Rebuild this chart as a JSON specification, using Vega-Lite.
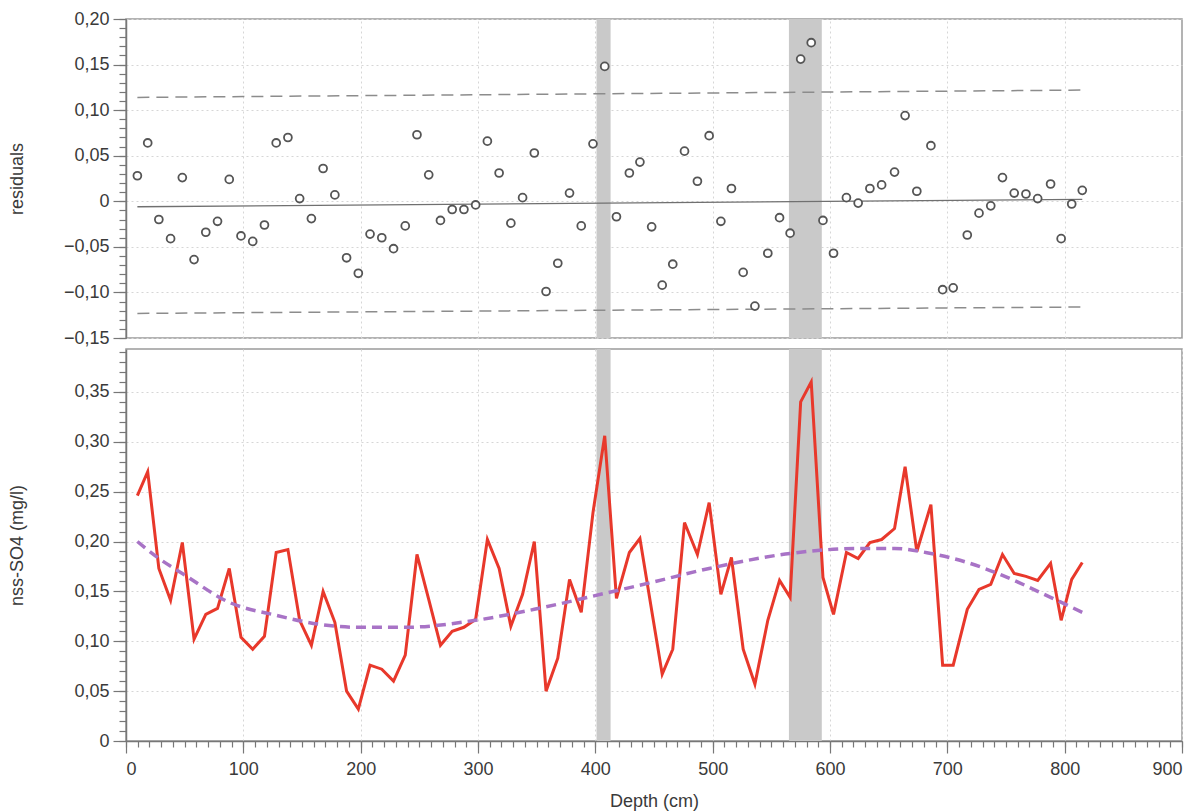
{
  "$schema": "https://vega.github.io/schema/vega-lite/v6.json",
  "background": "white",
  "padding": {"left": 7, "top": 9, "right": 5, "bottom": 0},
  "spacing": 0,
  "config": {
    "font": "Liberation Sans",
    "view": {"stroke": "#9a9a9a", "strokeWidth": 1.5},
    "axis": {
      "labelFont": "Liberation Sans",
      "titleFont": "Liberation Sans",
      "labelFontSize": 18,
      "titleFontSize": 18,
      "titleFontWeight": "normal",
      "labelColor": "#3a3a3a",
      "titleColor": "#3a3a3a",
      "gridColor": "#d6d6d6",
      "gridDash": [2, 3],
      "gridWidth": 1,
      "tickColor": "#777777",
      "domainColor": "#777777",
      "tickWidth": 1.2,
      "domainWidth": 1.5
    }
  },
  "datasets": {
    "bands": [{"start": 401, "end": 413}, {"start": 565, "end": 593}],
    "trend": [
      {"depth": 9.7, "mid": -0.006, "upper": 0.114, "lower": -0.123},
      {"depth": 815, "mid": 0.002, "upper": 0.122, "lower": -0.116}
    ],
    "res": [
      {"depth": 9.7, "r": 0.028}, {"depth": 18.5, "r": 0.064}, {"depth": 28, "r": -0.02}, {"depth": 38, "r": -0.041},
      {"depth": 48, "r": 0.026}, {"depth": 58, "r": -0.064}, {"depth": 68, "r": -0.034}, {"depth": 78, "r": -0.022},
      {"depth": 88, "r": 0.024}, {"depth": 98, "r": -0.038}, {"depth": 108, "r": -0.044}, {"depth": 118, "r": -0.026},
      {"depth": 128, "r": 0.064}, {"depth": 138, "r": 0.07}, {"depth": 148, "r": 0.003}, {"depth": 158, "r": -0.019},
      {"depth": 168, "r": 0.036}, {"depth": 178, "r": 0.007}, {"depth": 188, "r": -0.062}, {"depth": 198, "r": -0.079},
      {"depth": 208, "r": -0.036}, {"depth": 218, "r": -0.04}, {"depth": 228, "r": -0.052}, {"depth": 238, "r": -0.027},
      {"depth": 248, "r": 0.073}, {"depth": 258, "r": 0.029}, {"depth": 268, "r": -0.021}, {"depth": 278, "r": -0.009},
      {"depth": 288, "r": -0.009}, {"depth": 298, "r": -0.004}, {"depth": 308, "r": 0.066}, {"depth": 318, "r": 0.031},
      {"depth": 328, "r": -0.024}, {"depth": 338, "r": 0.004}, {"depth": 348, "r": 0.053}, {"depth": 358, "r": -0.099},
      {"depth": 368, "r": -0.068}, {"depth": 378, "r": 0.009}, {"depth": 388, "r": -0.027}, {"depth": 398, "r": 0.063},
      {"depth": 408, "r": 0.148}, {"depth": 418, "r": -0.017}, {"depth": 429, "r": 0.031}, {"depth": 438, "r": 0.043},
      {"depth": 448, "r": -0.028}, {"depth": 457, "r": -0.092}, {"depth": 466, "r": -0.069}, {"depth": 476, "r": 0.055},
      {"depth": 487, "r": 0.022}, {"depth": 497, "r": 0.072}, {"depth": 507, "r": -0.022}, {"depth": 516, "r": 0.014},
      {"depth": 526, "r": -0.078}, {"depth": 536, "r": -0.115}, {"depth": 547, "r": -0.057}, {"depth": 557, "r": -0.018},
      {"depth": 566, "r": -0.035}, {"depth": 575, "r": 0.156}, {"depth": 584, "r": 0.174}, {"depth": 594, "r": -0.021},
      {"depth": 603, "r": -0.057}, {"depth": 614, "r": 0.004}, {"depth": 624, "r": -0.002}, {"depth": 634, "r": 0.014},
      {"depth": 644, "r": 0.018}, {"depth": 655, "r": 0.032}, {"depth": 664, "r": 0.094}, {"depth": 674, "r": 0.011},
      {"depth": 686, "r": 0.061}, {"depth": 696, "r": -0.097}, {"depth": 705, "r": -0.095}, {"depth": 717, "r": -0.037},
      {"depth": 727, "r": -0.013}, {"depth": 737, "r": -0.005}, {"depth": 747, "r": 0.026}, {"depth": 757, "r": 0.009},
      {"depth": 767, "r": 0.008}, {"depth": 777, "r": 0.003}, {"depth": 788, "r": 0.019}, {"depth": 797, "r": -0.041},
      {"depth": 806, "r": -0.003}, {"depth": 815, "r": 0.012}
    ],
    "so4": [
      {"depth": 9.7, "v": 0.246}, {"depth": 18.5, "v": 0.27}, {"depth": 28, "v": 0.173}, {"depth": 38, "v": 0.141},
      {"depth": 48, "v": 0.199}, {"depth": 58, "v": 0.102}, {"depth": 68, "v": 0.127}, {"depth": 78, "v": 0.133},
      {"depth": 88, "v": 0.173}, {"depth": 98, "v": 0.104}, {"depth": 108, "v": 0.092}, {"depth": 118, "v": 0.105},
      {"depth": 128, "v": 0.189}, {"depth": 138, "v": 0.192}, {"depth": 148, "v": 0.121}, {"depth": 158, "v": 0.096},
      {"depth": 168, "v": 0.15}, {"depth": 178, "v": 0.119}, {"depth": 188, "v": 0.05}, {"depth": 198, "v": 0.032},
      {"depth": 208, "v": 0.076}, {"depth": 218, "v": 0.072}, {"depth": 228, "v": 0.06}, {"depth": 238, "v": 0.086},
      {"depth": 248, "v": 0.187}, {"depth": 258, "v": 0.142}, {"depth": 268, "v": 0.096}, {"depth": 278, "v": 0.11},
      {"depth": 288, "v": 0.114}, {"depth": 298, "v": 0.122}, {"depth": 308, "v": 0.202}, {"depth": 318, "v": 0.173},
      {"depth": 328, "v": 0.115}, {"depth": 338, "v": 0.147}, {"depth": 348, "v": 0.2}, {"depth": 358, "v": 0.05},
      {"depth": 368, "v": 0.083}, {"depth": 378, "v": 0.162}, {"depth": 388, "v": 0.129}, {"depth": 398, "v": 0.229},
      {"depth": 408, "v": 0.306}, {"depth": 418, "v": 0.143}, {"depth": 429, "v": 0.189}, {"depth": 438, "v": 0.203},
      {"depth": 448, "v": 0.131}, {"depth": 457, "v": 0.067}, {"depth": 466, "v": 0.092}, {"depth": 476, "v": 0.219},
      {"depth": 487, "v": 0.187}, {"depth": 497, "v": 0.239}, {"depth": 507, "v": 0.147}, {"depth": 516, "v": 0.184},
      {"depth": 526, "v": 0.092}, {"depth": 536, "v": 0.057}, {"depth": 547, "v": 0.121}, {"depth": 557, "v": 0.161},
      {"depth": 566, "v": 0.144}, {"depth": 575, "v": 0.34}, {"depth": 584, "v": 0.36}, {"depth": 594, "v": 0.164},
      {"depth": 603, "v": 0.127}, {"depth": 614, "v": 0.189}, {"depth": 624, "v": 0.183}, {"depth": 634, "v": 0.199},
      {"depth": 644, "v": 0.202}, {"depth": 655, "v": 0.213}, {"depth": 664, "v": 0.275}, {"depth": 674, "v": 0.19},
      {"depth": 686, "v": 0.237}, {"depth": 696, "v": 0.076}, {"depth": 705, "v": 0.076}, {"depth": 717, "v": 0.132},
      {"depth": 727, "v": 0.152}, {"depth": 737, "v": 0.157}, {"depth": 747, "v": 0.187}, {"depth": 757, "v": 0.168},
      {"depth": 767, "v": 0.165}, {"depth": 777, "v": 0.161}, {"depth": 788, "v": 0.178}, {"depth": 797, "v": 0.121},
      {"depth": 806, "v": 0.162}, {"depth": 815, "v": 0.179}
    ],
    "fit": [
      {"depth": 9.7, "v": 0.2}, {"depth": 28, "v": 0.183}, {"depth": 48, "v": 0.168}, {"depth": 88, "v": 0.139},
      {"depth": 128, "v": 0.126}, {"depth": 165, "v": 0.117}, {"depth": 198, "v": 0.114}, {"depth": 238, "v": 0.114},
      {"depth": 298, "v": 0.121}, {"depth": 348, "v": 0.132}, {"depth": 408, "v": 0.148}, {"depth": 448, "v": 0.159},
      {"depth": 497, "v": 0.173}, {"depth": 566, "v": 0.188}, {"depth": 624, "v": 0.193}, {"depth": 655, "v": 0.193},
      {"depth": 686, "v": 0.188}, {"depth": 717, "v": 0.179}, {"depth": 747, "v": 0.166}, {"depth": 788, "v": 0.144},
      {"depth": 815, "v": 0.129}
    ]
  },
  "vconcat": [
    {
      "width": 1056,
      "height": 319,
      "resolve": {"axis": {"x": "independent", "y": "independent"}},
      "layer": [
        {
          "data": {"name": "bands"},
          "mark": {"type": "rect", "color": "#c9c9c9"},
          "encoding": {
            "x": {"field": "start", "type": "quantitative", "scale": {"domain": [0, 900], "nice": false, "zero": false},
              "axis": {"orient": "bottom", "grid": true, "values": [100, 200, 300, 400, 500, 600, 700, 800], "labels": false, "ticks": false, "domain": false, "title": null}},
            "x2": {"field": "end"}
          }
        },
        {
          "data": {"name": "trend"},
          "mark": {"type": "line", "color": "#8c8c8c", "strokeWidth": 1.5, "strokeDash": [12, 7]},
          "encoding": {
            "x": {"field": "depth", "type": "quantitative", "axis": null},
            "y": {"field": "upper", "type": "quantitative", "scale": {"domain": [-0.15, 0.2], "nice": false, "zero": false},
              "axis": {"orient": "left", "values": [-0.15,-0.14,-0.13,-0.12,-0.11,-0.1,-0.09,-0.08,-0.07,-0.06,-0.05,-0.04,-0.03,-0.02,-0.01,0,0.01,0.02,0.03,0.04,0.05,0.06,0.07,0.08,0.09,0.1,0.11,0.12,0.13,0.14,0.15,0.16,0.17,0.18,0.19,0.2], "labels": false, "grid": false, "domain": false, "tickSize": 7, "title": null}}
          }
        },
        {
          "data": {"name": "trend"},
          "mark": {"type": "line", "color": "#8c8c8c", "strokeWidth": 1.5, "strokeDash": [12, 7]},
          "encoding": {
            "x": {"field": "depth", "type": "quantitative", "axis": null},
            "y": {"field": "lower", "type": "quantitative", "axis": null}
          }
        },
        {
          "data": {"name": "trend"},
          "mark": {"type": "line", "color": "#707070", "strokeWidth": 1.3},
          "encoding": {
            "x": {"field": "depth", "type": "quantitative", "axis": null},
            "y": {"field": "mid", "type": "quantitative", "axis": null}
          }
        },
        {
          "data": {"name": "res"},
          "mark": {"type": "point", "shape": "circle", "filled": false, "fill": "white", "fillOpacity": 1, "stroke": "#555555", "strokeWidth": 1.8, "size": 62, "opacity": 1},
          "encoding": {
            "x": {"field": "depth", "type": "quantitative", "axis": null},
            "y": {"field": "r", "type": "quantitative",
              "axis": {"orient": "left", "values": [-0.15, -0.1, -0.05, 0, 0.05, 0.1, 0.15, 0.2], "grid": true, "tickSize": 13, "labelPadding": 4,
                "labelExpr": "datum.value == 0 ? '0' : replace(format(datum.value, '.2f'), '.', ',')",
                "title": "residuals", "titleX": -109, "titleY": 159.5, "titleBaseline": "middle", "titleAlign": "center"}}
          }
        }
      ]
    },
    {
      "width": 1056,
      "height": 392,
      "resolve": {"axis": {"x": "independent", "y": "independent"}},
      "layer": [
        {
          "data": {"name": "bands"},
          "mark": {"type": "rect", "color": "#c9c9c9"},
          "encoding": {
            "x": {"field": "start", "type": "quantitative", "scale": {"domain": [0, 900], "nice": false, "zero": false},
              "axis": {"orient": "bottom", "values": [0,10,20,30,40,50,60,70,80,90,100,110,120,130,140,150,160,170,180,190,200,210,220,230,240,250,260,270,280,290,300,310,320,330,340,350,360,370,380,390,400,410,420,430,440,450,460,470,480,490,500,510,520,530,540,550,560,570,580,590,600,610,620,630,640,650,660,670,680,690,700,710,720,730,740,750,760,770,780,790,800,810,820,830,840,850,860,870,880,890,900], "labels": false, "grid": false, "domain": false, "tickSize": 6, "title": null}},
            "x2": {"field": "end"}
          }
        },
        {
          "data": {"name": "so4"},
          "mark": {"type": "line", "color": "#e8382b", "strokeWidth": 3},
          "encoding": {
            "x": {"field": "depth", "type": "quantitative",
              "axis": {"orient": "bottom", "values": [0, 100, 200, 300, 400, 500, 600, 700, 800, 900], "grid": true, "tickSize": 12, "labelPadding": 7, "title": "Depth (cm)", "titlePadding": 14}},
            "y": {"field": "v", "type": "quantitative", "scale": {"domain": [0, 0.393], "nice": false},
              "axis": {"orient": "left", "values": [0, 0.05, 0.1, 0.15, 0.2, 0.25, 0.3, 0.35], "grid": true, "tickSize": 13, "labelPadding": 4,
                "labelExpr": "datum.value == 0 ? '0' : replace(format(datum.value, '.2f'), '.', ',')",
                "title": "nss-SO4 (mg/l)", "titleX": -109, "titleY": 196, "titleBaseline": "middle", "titleAlign": "center"}}
          }
        },
        {
          "data": {"name": "fit"},
          "mark": {"type": "line", "color": "#a873c6", "strokeWidth": 3.5, "strokeDash": [10, 6], "interpolate": "monotone"},
          "encoding": {
            "x": {"field": "depth", "type": "quantitative", "axis": null},
            "y": {"field": "v", "type": "quantitative",
              "axis": {"orient": "left", "values": [0,0.01,0.02,0.03,0.04,0.05,0.06,0.07,0.08,0.09,0.1,0.11,0.12,0.13,0.14,0.15,0.16,0.17,0.18,0.19,0.2,0.21,0.22,0.23,0.24,0.25,0.26,0.27,0.28,0.29,0.3,0.31,0.32,0.33,0.34,0.35,0.36,0.37,0.38,0.39], "labels": false, "grid": false, "domain": false, "tickSize": 7, "title": null}}
          }
        }
      ]
    }
  ]
}
